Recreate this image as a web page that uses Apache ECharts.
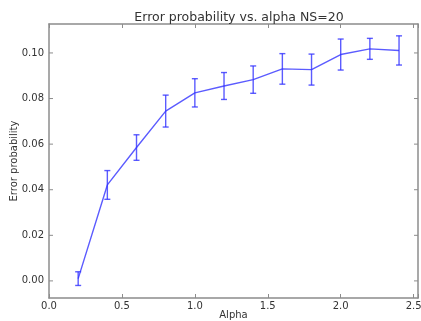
<!DOCTYPE html>
<html>
<head>
<meta charset="utf-8">
<script src="https://cdn.jsdelivr.net/npm/echarts@6/dist/echarts.min.js"></script>
<style>
  html, body { margin: 0; padding: 0; background: #fff; }
  #chart { width: 421px; height: 321px; }
</style>
</head>
<body>
<div id="chart"></div>
<script>
// values
const alphas = [0.2, 0.4, 0.6, 0.8, 1.0, 1.2, 1.4, 1.6, 1.8, 2.0, 2.2, 2.4]
const errorProb = [0.001, 0.0421, 0.0585, 0.0745, 0.0825, 0.0855, 0.0883, 0.093, 0.0927, 0.0993, 0.1018, 0.1011]
const errorSpread = [0.003, 0.0063, 0.0056, 0.007, 0.0062, 0.0059, 0.006, 0.0067, 0.0068, 0.0068, 0.0046, 0.0064]
const xTicks = [0, 0.5, 1.0, 1.5, 2.0, 2.5]
const yTicks = [0, 0.02, 0.04, 0.06, 0.08, 0.1]

const LINE = 'rgba(50, 50, 255, 0.8)'
const FRAME = '#8c8c8c'
const TEXT = '#333'
const FONT = '"DejaVu Sans", sans-serif'

const chart = echarts.init(document.getElementById('chart'), null, { renderer: 'canvas' })

const linePts = alphas.map((a, i) => [a, errorProb[i]])
const barPts = alphas.map((a, i) => [a, errorProb[i] - errorSpread[i], errorProb[i] + errorSpread[i]])

const tickAxis = {
  axisLine: { show: true, onZero: false, lineStyle: { color: FRAME, width: 1.5 } },
  axisTick: { show: true, inside: true, length: 4, lineStyle: { color: FRAME } },
  splitLine: { show: false },
}

chart.setOption({
  animation: false,
  title: {
    text: 'Error probability vs. alpha NS=20',
    left: 234, top: 6, textAlign: 'center',
    textStyle: { fontFamily: FONT, fontSize: 12.5, fontWeight: 'normal', color: TEXT },
  },
  grid: { left: 49, right: 3, top: 24, bottom: 23, outerBoundsMode: 'none', containLabel: false },
  xAxis: [
    {
      ...tickAxis, type: 'value', min: 0, max: 2.53, interval: 0.5,
      name: 'Alpha', nameLocation: 'middle', nameGap: 12, nameMoveOverlap: false,
      nameTextStyle: { fontFamily: FONT, fontSize: 10, color: TEXT },
      axisLabel: {
        fontFamily: FONT, fontSize: 10, color: TEXT, margin: 3,
        formatter: v => xTicks.some(t => Math.abs(t - v) < 1e-9) ? v.toFixed(1) : '',
      },
    },
    {
      ...tickAxis, type: 'value', position: 'top', min: 0, max: 2.53, interval: 0.5,
      axisLabel: { show: false },
    },
  ],
  yAxis: [
    {
      ...tickAxis, type: 'value', min: -0.0075, max: 0.1127,
      name: 'Error probability', nameLocation: 'middle', nameGap: 30, nameMoveOverlap: false,
      nameTextStyle: { fontFamily: FONT, fontSize: 10, color: TEXT },
      axisLabel: { show: false }, axisTick: { show: false },
    },
    {
      ...tickAxis, type: 'value', position: 'right', min: -0.0075, max: 0.1127,
      axisLabel: { show: false }, axisTick: { show: false },
    },
  ],
  series: [
    {
      // y ticks on both sides and their labels
      type: 'custom',
      silent: true,
      data: yTicks.map(v => [v]),
      renderItem: (params, api) => {
        const p = api.coord([0, api.value(0)])
        const x0 = params.coordSys.x
        const x1 = x0 + params.coordSys.width
        return {
          type: 'group',
          children: [
            { type: 'line', shape: { x1: x0, y1: p[1], x2: x0 + 4, y2: p[1] }, style: { stroke: FRAME, lineWidth: 1 } },
            { type: 'line', shape: { x1: x1, y1: p[1], x2: x1 - 4, y2: p[1] }, style: { stroke: FRAME, lineWidth: 1 } },
            {
              type: 'text', x: x0 - 5, y: p[1],
              style: { text: api.value(0).toFixed(2), align: 'right', verticalAlign: 'middle', fill: TEXT, font: '10px ' + FONT },
            },
          ],
        }
      },
    },
    {
      type: 'line',
      data: linePts,
      showSymbol: false,
      lineStyle: { color: LINE, width: 1.4 },
      z: 3,
    },
    {
      type: 'custom',
      data: barPts,
      z: 4,
      renderItem: (params, api) => {
        const lo = api.coord([api.value(0), api.value(1)])
        const hi = api.coord([api.value(0), api.value(2)])
        const cap = 3
        const st = { stroke: LINE, lineWidth: 1.4 }
        return {
          type: 'group',
          children: [
            { type: 'line', shape: { x1: lo[0], y1: lo[1], x2: hi[0], y2: hi[1] }, style: st },
            { type: 'line', shape: { x1: lo[0] - cap, y1: lo[1], x2: lo[0] + cap, y2: lo[1] }, style: st },
            { type: 'line', shape: { x1: hi[0] - cap, y1: hi[1], x2: hi[0] + cap, y2: hi[1] }, style: st },
          ],
        }
      },
    },
  ],
})
</script>
</body>
</html>
